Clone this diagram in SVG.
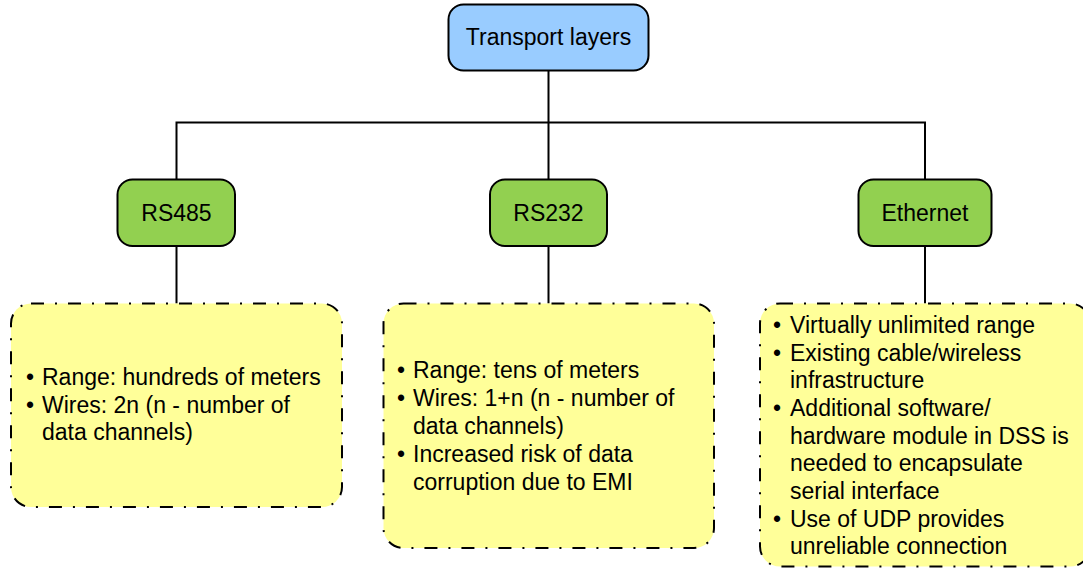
<svg xmlns="http://www.w3.org/2000/svg" width="1083" height="568" viewBox="0 0 1083 568">
<style>
.node{stroke:#000;stroke-width:2}
.top{fill:#99CCFF}
.grn{fill:#92D050}
.note{fill:#FFFF99;stroke:#000;stroke-width:2;stroke-dasharray:13 11 2 11}
.conn{stroke:#000;stroke-width:2;fill:none}
text{font-family:"Liberation Sans",Arial,sans-serif;font-size:23px;fill:#000}
.c{text-anchor:middle}
</style>
<rect width="1083" height="568" fill="#fff"/>
<g id="connectors">
<path class="conn" d="M548.5 70.5V122.5M176.5 179.5V122.5H925V179.5M548.5 122.5V179.5"/>
<path class="conn" d="M176.5 246V303.5M548.5 246V303.5M925 246V303.5"/>
</g>
<g id="transport">
<rect class="node top" x="448.5" y="4.5" width="200" height="66" rx="15"/>
<text class="c" x="548.5" y="45">Transport layers</text>
</g>
<g id="rs485">
<rect class="node grn" x="117.5" y="179.5" width="117.5" height="66.5" rx="15"/>
<text class="c" x="176.5" y="221">RS485</text>
</g>
<g id="rs232">
<rect class="node grn" x="490" y="179.5" width="117" height="66.5" rx="15"/>
<text class="c" x="548.5" y="221">RS232</text>
</g>
<g id="ethernet">
<rect class="node grn" x="858.5" y="179.5" width="133" height="66.5" rx="15"/>
<text class="c" x="925" y="221">Ethernet</text>
</g>
<g id="rs485-notes">
<rect class="note" x="11" y="303.5" width="331" height="203.5" rx="20"/>
<text x="26" y="385">•</text><text x="42" y="385">Range: hundreds of meters</text>
<text x="26" y="412.5">•</text><text x="42" y="412.5">Wires: 2n (n - number of</text>
<text x="42" y="440">data channels)</text>
</g>
<g id="rs232-notes">
<rect class="note" x="383.5" y="303.5" width="330.5" height="244.5" rx="20"/>
<text x="397" y="377.5">•</text><text x="413" y="377.5">Range: tens of meters</text>
<text x="397" y="405.5">•</text><text x="413" y="405.5">Wires: 1+n (n - number of</text>
<text x="413" y="433.5">data channels)</text>
<text x="397" y="461.5">•</text><text x="413" y="461.5">Increased risk of data</text>
<text x="413" y="489.5">corruption due to EMI</text>
</g>
<g id="ethernet-notes">
<rect class="note" x="760" y="303.5" width="330" height="263" rx="20"/>
<text x="773" y="333">•</text><text x="790" y="333">Virtually unlimited range</text>
<text x="773" y="360.5">•</text><text x="790" y="360.5">Existing cable/wireless</text>
<text x="790" y="388">infrastructure</text>
<text x="773" y="415.5">•</text><text x="790" y="415.5">Additional software/</text>
<text x="790" y="443.5">hardware module in DSS is</text>
<text x="790" y="471">needed to encapsulate</text>
<text x="790" y="498.5">serial interface</text>
<text x="773" y="526.5">•</text><text x="790" y="526.5">Use of UDP provides</text>
<text x="790" y="554">unreliable connection</text>
</g>
</svg>
